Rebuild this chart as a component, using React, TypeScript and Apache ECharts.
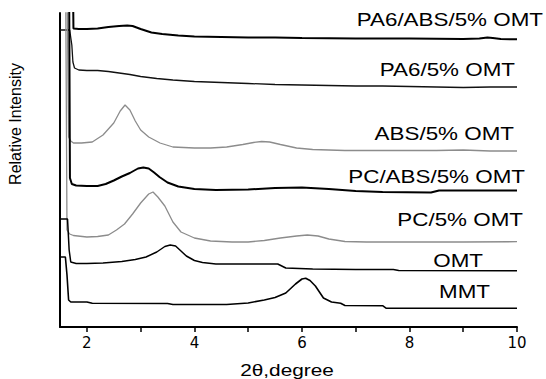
import React, { useEffect, useRef } from "react";
import * as echarts from "echarts";

// 2θ (degree) vs relative intensity (arbitrary units, axis 0–314; values above are clipped)
const pa6Abs = [[1.5,400],[1.73,400],[1.75,298.5],[1.85,298],[2.0,298],[2.2,298.5],[2.4,300],[2.6,301],[2.75,301.5],[2.85,301],[3.0,298],[3.2,294.5],[3.4,293],[3.7,291.5],[4.0,290.5],[4.5,290],[5.0,289.5],[5.5,289.5],[6.0,289],[7.0,288.5],[8.0,288.5],[9.0,288],[9.3,288.5],[9.45,289.5],[9.55,289],[9.7,288],[10,287.7]];
const pa6 = [[1.5,297],[1.68,297],[1.72,282],[1.74,265],[1.77,259],[1.85,257],[2.0,256.5],[2.2,256.5],[2.4,255.5],[2.6,254],[2.8,252.5],[3.0,250.5],[3.3,248.5],[3.6,247],[4.0,245.5],[4.5,244.5],[5.0,243.5],[5.5,242.5],[6.0,242],[6.5,241.5],[7.0,241],[7.5,241],[8.0,240.5],[8.5,240],[9.0,239.5],[9.5,240],[10,240]];
const abs = [[1.5,400],[1.62,400],[1.66,190],[1.70,186],[1.75,184],[1.9,184],[2.1,185],[2.3,192],[2.5,204],[2.62,216],[2.71,222],[2.8,217],[2.9,206],[3.0,197],[3.15,190],[3.36,184],[3.6,180],[4.0,179],[4.3,179],[4.6,180],[4.9,182.5],[5.1,184.5],[5.25,185.5],[5.4,185],[5.6,182.5],[5.9,179],[6.2,177.5],[6.8,176.5],[7.5,176.5],[8.5,176.5],[9.0,177],[9.5,176],[10,176]];
const pcAbs = [[1.5,400],[1.665,400],[1.685,149],[1.72,143],[1.8,141.5],[2.0,141],[2.2,141],[2.35,143],[2.5,146.5],[2.65,150.5],[2.8,154],[2.95,158.5],[3.05,159.5],[3.15,158.5],[3.25,154.5],[3.35,150],[3.5,144.5],[3.7,140.5],[4.0,138],[4.4,137],[5.0,137.5],[5.5,139],[6.0,139.5],[6.5,138],[7.0,136],[7.5,135],[8.4,134.5],[8.55,136.5],[10,136.5]];
const pc = [[1.5,400],[1.6,400],[1.63,97],[1.68,93],[1.75,91.5],[2.0,90],[2.2,90.5],[2.4,92],[2.55,97],[2.7,103],[2.85,113],[3.0,124],[3.15,133],[3.23,135],[3.32,130],[3.45,121],[3.6,105],[3.75,95],[4.0,89],[4.3,86],[4.7,85],[5.0,85],[5.3,86.5],[5.6,89],[5.9,91],[6.1,92],[6.3,91],[6.5,88],[6.8,85.5],[7.2,85],[8.0,85],[9.0,85],[10,85.3]];
const omt = [[1.5,108],[1.64,108],[1.67,77],[1.70,65],[1.8,63.5],[2.0,63.5],[2.3,64],[2.65,65.5],[2.9,67.5],[3.1,70],[3.3,75],[3.45,80.5],[3.55,82],[3.65,81],[3.75,76],[3.85,71],[4.0,66.5],[4.15,64.5],[4.4,63],[5.0,63],[5.55,63],[5.7,59],[6.2,58],[7.0,57.5],[7.7,57.5],[7.8,56.5],[10,56.3]];
const mmt = [[1.5,70],[1.6,70],[1.63,52],[1.66,27],[1.7,25],[2.0,25],[2.1,23.7],[3.5,23.5],[3.6,22.5],[4.6,22.5],[5.0,24],[5.3,27],[5.5,29.5],[5.7,34],[5.88,43],[6.0,48],[6.07,48.7],[6.15,46.5],[6.25,41],[6.4,29],[6.55,25],[6.72,23.7],[6.8,21.5],[7.5,21.3],[7.57,18.7],[10,18.7]];

const seriesNames = ["PA6/ABS/5% OMT", "PA6/5% OMT", "ABS/5% OMT", "PC/ABS/5% OMT", "PC/5% OMT", "OMT", "MMT"];
const seriesData = [pa6Abs, pa6, abs, pcAbs, pc, omt, mmt];
const tickValues = [2, 3, 4, 5, 6, 7, 8, 9, 10];
const labelValues = [2, 4, 6, 8, 10];

const lineStyles = [
  { color: "#000", width: 2 },
  { color: "#111", width: 1.3 },
  { color: "#8c8c8c", width: 1.3 },
  { color: "#000", width: 2 },
  { color: "#8c8c8c", width: 1.3 },
  { color: "#000", width: 1.5 },
  { color: "#000", width: 1.6 },
];
// label anchor: right edge x, vertical centre y
const labelPos = [
  [543, 20], [515, 70], [514, 134], [525, 177], [523, 220], [483, 261], [490, 292],
];

export default function App() {
  const ref = useRef<HTMLDivElement>(null);
  useEffect(() => {
    if (!ref.current) return;
    const chart = echarts.init(ref.current, null, { renderer: "svg" });
    const labelFont = { fontSize: 18, fontFamily: "Liberation Sans, Arial, sans-serif" };
    chart.setOption({
      animation: false,
      backgroundColor: "#fff",
      grid: { left: 60, right: 29, top: 13, bottom: 52, containLabel: false },
      xAxis: {
        type: "value",
        min: 1.5,
        max: 10,
        axisLine: { show: true, lineStyle: { color: "#000", width: 2 } },
        axisTick: { show: true, customValues: tickValues, length: 5, lineStyle: { color: "#000", width: 1.5 } },
        axisLabel: { customValues: labelValues, color: "#000", fontSize: 15, fontFamily: "DejaVu Sans", margin: 8 },
        splitLine: { show: false },
      },
      yAxis: {
        type: "value",
        min: 0,
        max: 314,
        axisLine: { show: true, lineStyle: { color: "#000", width: 2 } },
        axisTick: { show: false },
        axisLabel: { show: false },
        splitLine: { show: false },
      },
      series: seriesData.map((d, i) => ({
        type: "line",
        name: seriesNames[i],
        data: d,
        showSymbol: false,
        symbol: "none",
        clip: true,
        lineStyle: lineStyles[i],
        z: 2,
      })),
      graphic: [
        ...seriesNames.map((n, i) => ({
          type: "text",
          x: labelPos[i][0],
          y: labelPos[i][1],
          scaleX: 1.245,
          style: {
            text: n,
            fill: "#000",
            ...labelFont,
            align: "right",
            verticalAlign: "middle",
            textAlign: "right",
            textVerticalAlign: "middle",
          },
        })),
        {
          type: "text",
          x: 287,
          y: 370,
          scaleX: 1.3,
          style: {
            text: "2θ,degree",
            fill: "#000",
            fontSize: 16,
            fontFamily: "Liberation Sans, Arial, sans-serif",
            align: "center",
            verticalAlign: "middle",
            textAlign: "center",
            textVerticalAlign: "middle",
          },
        },
        {
          type: "text",
          x: 15,
          y: 124,
          rotation: Math.PI / 2,
          style: {
            text: "Relative Intensity",
            fill: "#000",
            fontSize: 16,
            fontFamily: "Liberation Sans, Arial, sans-serif",
            align: "center",
            verticalAlign: "middle",
            textAlign: "center",
            textVerticalAlign: "middle",
          },
        },
      ],
    });
    return () => chart.dispose();
  }, []);
  return <div ref={ref} style={{ position: "fixed", left: 0, top: 0, width: 546, height: 379 }} />;
}
